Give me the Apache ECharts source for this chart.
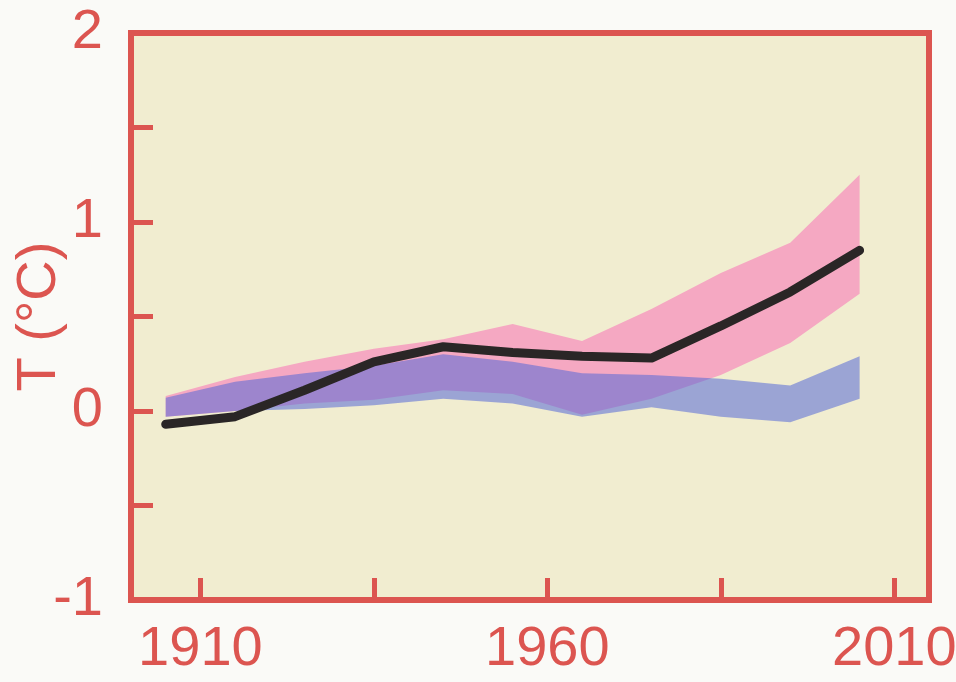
<!DOCTYPE html>
<html>
<head>
<meta charset="utf-8">
<script src="https://cdn.jsdelivr.net/npm/echarts@6/dist/echarts.min.js"></script>
<style>
  html, body { margin: 0; padding: 0; background: #fafaf7; }
  #chart { width: 956px; height: 682px; }
</style>
</head>
<body>
<div id="chart"></div>
<script>
// Decadal means, temperature anomaly in °C
const years = [1905, 1915, 1925, 1935, 1945, 1955, 1965, 1975, 1985, 1995, 2005];
const observed = [-0.07, -0.03, 0.11, 0.26, 0.34, 0.31, 0.29, 0.28, 0.45, 0.63, 0.85];
// Model range with natural + anthropogenic forcings
const allLow  = [-0.03, 0.00, 0.04, 0.06, 0.11, 0.09, -0.02, 0.065, 0.19, 0.36, 0.62];
const allHigh = [0.08, 0.18, 0.26, 0.33, 0.38, 0.46, 0.37, 0.54, 0.73, 0.89, 1.25];
// Model range with natural forcings only
const natLow  = [-0.03, 0.00, 0.01, 0.03, 0.065, 0.04, -0.03, 0.02, -0.03, -0.06, 0.065];
const natHigh = [0.07, 0.155, 0.20, 0.24, 0.30, 0.26, 0.20, 0.19, 0.17, 0.135, 0.29];

const xTicks = [1910, 1935, 1960, 1985, 2010];
const xLabels = [1910, 1960, 2010];
const yLabels = [-1, 0, 1, 2];

const RED = '#dc5550';
const FONT = '"Liberation Sans", Arial, sans-serif';

function pairs(vals) { return years.map((y, i) => [y, vals[i]]); }

// A shaded range: one polygon running along the upper edge and back along the lower one
function band(name, lo, hi, color) {
  return {
    name: name, type: 'custom', silent: true,
    data: years.map((y, i) => [y, lo[i], hi[i]]),
    encode: { x: 0, y: [1, 2] },
    renderItem: function (params, api) {
      if (params.dataIndex !== 0) return null;
      const top = years.map((y, i) => api.coord([y, hi[i]]));
      const bottom = years.map((y, i) => api.coord([y, lo[i]])).reverse();
      return {
        type: 'polygon',
        shape: { points: top.concat(bottom) },
        style: { fill: color }
      };
    }
  };
}

const chart = echarts.init(document.getElementById('chart'), null, { renderer: 'canvas' });
chart.setOption({
  animation: false,
  backgroundColor: '#fafaf7',
  grid: {
    left: 131, right: 27, top: 33, bottom: 82,
    containLabel: false, outerBoundsMode: 'none',
    show: true, backgroundColor: '#f1edd0',
    borderColor: RED, borderWidth: 6
  },
  xAxis: {
    type: 'value', min: 1900, max: 2015,
    axisLine: { show: false, onZero: false },
    splitLine: { show: false },
    axisTick: {
      show: true, inside: true, length: 22, customValues: xTicks,
      lineStyle: { color: RED, width: 5 }
    },
    axisLabel: {
      customValues: xLabels, margin: 22,
      formatter: v => String(v),
      color: RED, fontSize: 56, fontFamily: FONT
    }
  },
  yAxis: {
    type: 'value', min: -1, max: 2, interval: 0.5,
    name: 'T (°C)', nameLocation: 'middle', nameRotate: 90, nameGap: 63,
    nameMoveOverlap: false,
    nameTextStyle: { color: RED, fontSize: 56, fontFamily: FONT },
    axisLine: { show: false, onZero: false },
    splitLine: { show: false },
    axisTick: {
      show: true, inside: true, length: 22,
      lineStyle: { color: RED, width: 5 }
    },
    axisLabel: {
      customValues: yLabels, margin: 28,
      color: RED, fontSize: 56, fontFamily: FONT
    }
  },
  series: [
    band('all forcings', allLow, allHigh, '#f5a8c2'),
    band('natural forcings', natLow, natHigh, 'rgba(83,104,215,0.55)'),
    {
      name: 'observed', type: 'line', data: pairs(observed),
      showSymbol: false, silent: true, z: 5,
      lineStyle: { color: '#2a2626', width: 9, cap: 'round', join: 'round' }
    }
  ]
});
</script>
</body>
</html>
